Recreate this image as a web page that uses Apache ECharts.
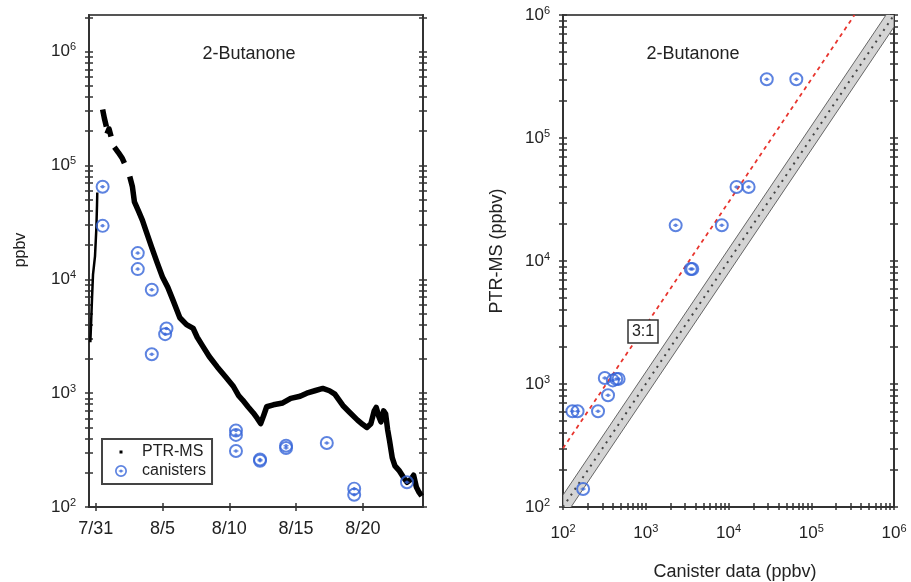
<!DOCTYPE html>
<html>
<head>
<meta charset="utf-8">
<script src="https://cdn.jsdelivr.net/npm/echarts@6/dist/echarts.min.js"></script>
<style>
  html, body { margin: 0; padding: 0; background: #fff; }
  #chart { width: 911px; height: 582px; }
</style>
</head>
<body>
<div id="chart"></div>
<script>
// left panel: days after 7/31
const dayTicks = [0, 5, 10, 15, 20];
const dayLabels = ['7/31', '8/5', '8/10', '8/15', '8/20'];
const decades = [1e2, 1e3, 1e4, 1e5, 1e6];

// PTR-MS time series (null = data gap); first piece is the spin-up on 7/30-7/31
const ptrDays = [-0.4, -0.33, -0.27, -0.2, -0.05, 0.05, 0.1, 0.12, null,
  0.52, 0.65, 0.8, null, 0.85, 1.0, 1.15, null, 1.4, 1.7, 2.0, 2.15, null,
  2.55, 2.75, 2.9, 3.2, 3.5, 3.8, 4.2, 4.6, 5.0, 5.4, 5.8, 6.3, 6.8, 7.3, 7.6, 8.0, 8.5, 9.1, 9.7,
  10.3, 10.7, 11.0, 11.4, 11.8, 12.1, 12.35, 12.6, 12.8, 13.3, 14.0, 14.6, 15.3, 15.8, 16.4, 17.0,
  17.5, 17.9, 18.5, 19.0, 19.6, 20.0, 20.3, 20.6, 20.85, 21.0, 21.2, 21.35, 21.55, 21.7, 21.85,
  22.0, 22.2, 22.4, 22.7, 23.0, 23.3, 23.6, 23.8, 24.0, 24.2, 24.4];
const ptrValues = [2.8e3, 4.5e3, 7e3, 1.1e4, 1.6e4, 2.8e4, 4.5e4, 5.8e4, null,
  3.1e5, 2.6e5, 2.2e5, null, 1.9e5, 2.1e5, 1.8e5, null, 1.45e5, 1.3e5, 1.15e5, 1.05e5, null,
  8e4, 6.5e4, 4.8e4, 4e4, 3.3e4, 2.6e4, 1.9e4, 1.4e4, 1.05e4, 8.5e3, 6.5e3, 4.6e3, 4.0e3, 3.7e3, 3.1e3, 2.6e3, 2.1e3, 1.7e3, 1.4e3,
  1.15e3, 950, 870, 760, 670, 600, 540, 650, 760, 790, 820, 900, 940, 1.0e3, 1.05e3, 1.1e3,
  1.05e3, 980, 780, 680, 580, 530, 500, 540, 700, 750, 620, 560, 700, 660, 480,
  380, 270, 230, 210, 185, 165, 175, 190, 150, 135, 125];

// canister samples, time series
const canDays = [0.52, 0.52, 3.15, 3.15, 4.2, 4.2, 5.2, 5.3, 10.5, 10.5, 10.5, 12.3, 12.3, 14.25, 14.25, 17.3, 19.35, 19.35, 23.3];
const canValues = [6.5e4, 2.95e4, 1.7e4, 1.23e4, 8.1e3, 2.2e3, 3.3e3, 3.7e3, 470, 430, 310, 255, 262, 330, 345, 365, 145, 128, 165];

// right panel: canister vs PTR-MS
const cmpCanister = [2.9e4, 6.6e4, 1.25e4, 1.75e4, 2.3e3, 8.3e3, 3.5e3, 3.65e3, 130, 150, 265, 350, 320, 400, 440, 470, 175];
const cmpPtr = [3.0e5, 3.0e5, 4.0e4, 4.0e4, 1.95e4, 1.95e4, 8.6e3, 8.6e3, 600, 600, 600, 810, 1.12e3, 1.07e3, 1.1e3, 1.1e3, 140];

const ratioLine = 3;
const bandLow = 0.8, bandHigh = 1.25;

const FONT = '"Liberation Sans", Arial, sans-serif';
const INK = '#222';
const BLUE = '#3564d8';

function logTicks(maxv) {
  const out = [];
  decades.forEach(d => { for (let k = 1; k <= 9; k++) if (d * k <= maxv * 1.0001) out.push(d * k); });
  return out;
}
function supLabel(v) {
  const e = v < 50 ? Math.round(v) : Math.round(Math.log10(v));
  return '{b|10}{s|' + e + '}';
}
const supRich = {
  b: { fontSize: 17, color: INK, fontFamily: FONT, lineHeight: 20 },
  s: { fontSize: 11, color: INK, fontFamily: FONT, verticalAlign: 'top', lineHeight: 12 }
};
// ring with a dot and a short bar in the middle
const canSymbol = 'path://M12,0A12,12 0 1,0 12,24A12,12 0 1,0 12,0ZM12,3.4A8.6,8.6 0 1,1 12,20.6A8.6,8.6 0 1,1 12,3.4Z' +
  'M12,9A3,3 0 1,0 12,15A3,3 0 1,0 12,9ZM7.5,11.2v1.6h9v-1.6Z';
const dotSvg = '<svg xmlns="http://www.w3.org/2000/svg" width="14" height="12"><rect x="5.5" y="4.5" width="3" height="3" fill="#000"/></svg>';
const dotIcon = 'image://data:image/svg+xml;charset=utf-8,' + encodeURIComponent(dotSvg);

const ptrData = ptrDays.map((d, i) => d === null ? ['-', '-'] : [d, ptrValues[i]]);
const firstGap = ptrDays.indexOf(null);

// one log y axis layer
function yLog(grid, maxv, pos, inside, main) {
  return {
    type: 'log', logBase: 10, gridIndex: grid, position: pos, min: 100, max: maxv,
    axisLine: { show: main, onZero: false, lineStyle: { color: '#333', width: 2 } },
    axisTick: { show: true, inside: inside, length: 4, customValues: logTicks(maxv), lineStyle: { color: '#333', width: 1.5 } },
    axisLabel: main && pos === 'left'
      ? { show: true, customValues: decades, formatter: supLabel, rich: supRich, margin: 13 }
      : { show: false },
    splitLine: { show: false }
  };
}

const chart = echarts.init(document.getElementById('chart'));
const leftMax = 2.1e6;

chart.setOption({
  animation: false,
  grid: [
    { left: 89, top: 15, width: 334, height: 492, show: true, borderColor: '#555', borderWidth: 2 },
    { left: 563, top: 15, width: 331, height: 492, show: true, borderColor: '#555', borderWidth: 2 }
  ],
  xAxis: [
    {
      type: 'value', gridIndex: 0, position: 'bottom', min: -0.5, max: 24.5,
      axisLine: { onZero: false, lineStyle: { color: '#333', width: 2 } },
      axisTick: { inside: true, length: 4, customValues: dayTicks, lineStyle: { color: '#333', width: 1.5 } },
      axisLabel: {
        customValues: dayTicks, margin: 13, color: INK, fontSize: 18, fontFamily: FONT,
        formatter: v => { const i = dayTicks.indexOf(Math.round(v)); return i >= 0 ? dayLabels[i] : ''; }
      },
      splitLine: { show: false }
    },
    {
      type: 'log', logBase: 10, gridIndex: 1, position: 'bottom', min: 100, max: 1e6,
      axisLine: { onZero: false, lineStyle: { color: '#333', width: 2 } },
      axisTick: { inside: true, length: 4, customValues: logTicks(1e6), lineStyle: { color: '#333', width: 1.5 } },
      axisLabel: { customValues: decades, formatter: supLabel, rich: supRich, margin: 16 },
      splitLine: { show: false }
    },
    {
      type: 'value', gridIndex: 0, position: 'bottom', min: -0.5, max: 24.5,
      axisLine: { show: false, onZero: false },
      axisTick: { inside: false, length: 4, customValues: dayTicks, lineStyle: { color: '#333', width: 1.5 } },
      axisLabel: { show: false }, splitLine: { show: false }
    },
    {
      type: 'log', logBase: 10, gridIndex: 1, position: 'bottom', min: 100, max: 1e6,
      axisLine: { show: false, onZero: false },
      axisTick: { inside: false, length: 3, customValues: logTicks(1e6), lineStyle: { color: '#333', width: 1.5 } },
      axisLabel: { show: false }, splitLine: { show: false }
    }
  ],
  yAxis: [
    yLog(0, leftMax, 'left', true, true),
    yLog(0, leftMax, 'left', false, false),
    yLog(0, leftMax, 'right', true, true),
    yLog(0, leftMax, 'right', false, false),
    yLog(1, 1e6, 'left', true, true),
    yLog(1, 1e6, 'left', false, false),
    yLog(1, 1e6, 'right', true, true),
    yLog(1, 1e6, 'right', false, false)
  ],
  legend: {
    left: 102, top: 439, orient: 'vertical',
    padding: [5, 6, 5, 12], itemWidth: 14, itemHeight: 12, itemGap: 3,
    borderColor: '#444', borderWidth: 2, backgroundColor: '#fff',
    textStyle: { color: INK, fontSize: 16, fontFamily: FONT, padding: [0, 0, 0, 9] },
    data: [{ name: 'PTR-MS', icon: dotIcon }, { name: 'canisters', icon: canSymbol }]
  },
  series: [
    {
      name: 'PTR-MS', type: 'line', xAxisIndex: 0, yAxisIndex: 0,
      data: ptrData.slice(0, firstGap),
      showSymbol: false, symbol: 'none',
      itemStyle: { color: '#000' },
      lineStyle: { color: '#000', width: 2.5, join: 'round' }, z: 3
    },
    {
      name: 'PTR-MS', type: 'line', xAxisIndex: 0, yAxisIndex: 0,
      data: ptrData.slice(firstGap + 1),
      showSymbol: false, symbol: 'none', connectNulls: false,
      itemStyle: { color: '#000' },
      lineStyle: { color: '#000', width: 5.5, join: 'round' }, z: 3
    },
    {
      name: 'canisters', type: 'scatter', xAxisIndex: 0, yAxisIndex: 0,
      data: canDays.map((d, i) => [d, canValues[i]]),
      symbol: canSymbol, symbolSize: 14, itemStyle: { color: BLUE }, z: 4
    },
    {
      name: 'band', type: 'custom', xAxisIndex: 1, yAxisIndex: 4, clip: true, silent: true,
      data: [[100, 1e6]],
      renderItem: (params, api) => {
        const a = api.value(0), b = api.value(1);
        const pts = [[a, a * bandLow], [b, b * bandLow], [b, b * bandHigh], [a, a * bandHigh]].map(p => api.coord(p));
        return { type: 'polygon', shape: { points: pts }, style: { fill: '#d4d4d4', stroke: '#666', lineWidth: 1 } };
      },
      z: 1
    },
    {
      name: '1:1', type: 'line', xAxisIndex: 1, yAxisIndex: 4,
      data: [[100, 100], [1e6, 1e6]], symbol: 'none', silent: true,
      lineStyle: { color: '#444', width: 2, type: [2, 5] }, z: 2
    },
    {
      name: '3:1', type: 'line', xAxisIndex: 1, yAxisIndex: 4,
      data: [[100, 100 * ratioLine], [1e6 / ratioLine, 1e6]], symbol: 'none', silent: true,
      lineStyle: { color: '#e8352e', width: 1.8, type: [4, 4] }, z: 2
    },
    {
      name: 'canisters', type: 'scatter', xAxisIndex: 1, yAxisIndex: 4,
      data: cmpCanister.map((c, i) => [c, cmpPtr[i]]),
      symbol: canSymbol, symbolSize: 14, itemStyle: { color: BLUE }, z: 4
    }
  ],
  graphic: [
    { type: 'text', x: 249, y: 54, style: { text: '2-Butanone', font: '18px ' + FONT, fill: INK, textAlign: 'center', textVerticalAlign: 'middle' } },
    { type: 'text', x: 693, y: 54, style: { text: '2-Butanone', font: '18px ' + FONT, fill: INK, textAlign: 'center', textVerticalAlign: 'middle' } },
    { type: 'text', x: 21, y: 250, rotation: Math.PI / 2, style: { text: 'ppbv', font: '16px ' + FONT, fill: INK, textAlign: 'center', textVerticalAlign: 'middle' } },
    { type: 'text', x: 497, y: 251, rotation: Math.PI / 2, style: { text: 'PTR-MS (ppbv)', font: '18px ' + FONT, fill: INK, textAlign: 'center', textVerticalAlign: 'middle' } },
    { type: 'text', x: 735, y: 572, style: { text: 'Canister data (ppbv)', font: '18px ' + FONT, fill: INK, textAlign: 'center', textVerticalAlign: 'middle' } },
    { type: 'rect', shape: { x: 628, y: 320, width: 30, height: 23 }, style: { fill: '#fff', stroke: '#333', lineWidth: 1.5 }, z: 10 },
    { type: 'text', x: 643, y: 331.5, style: { text: '3:1', font: '16px ' + FONT, fill: INK, textAlign: 'center', textVerticalAlign: 'middle' }, z: 11 }
  ]
});
</script>
</body>
</html>
